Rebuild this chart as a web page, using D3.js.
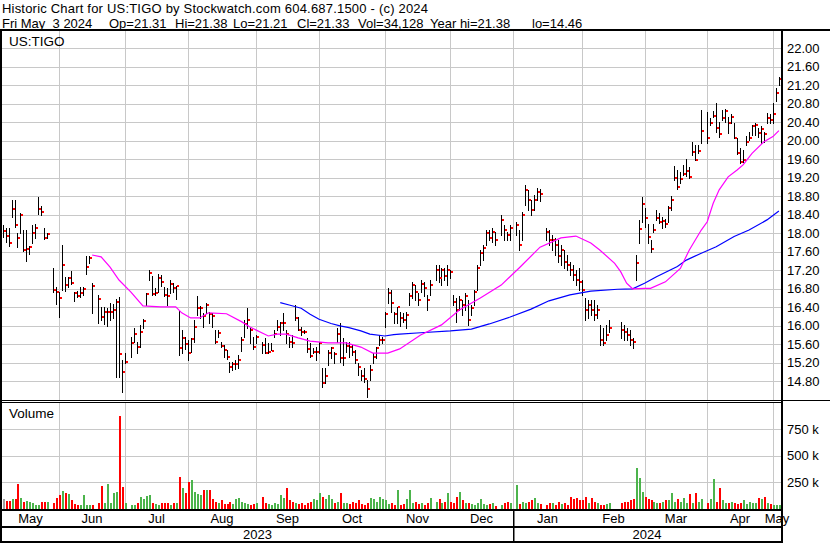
<!DOCTYPE html>
<html><head><meta charset="utf-8">
<script src="https://cdn.jsdelivr.net/npm/d3@7"></script>
<style>
html,body{margin:0;padding:0;background:#fff;}
svg{display:block;font-family:"Liberation Sans",Arial,sans-serif;}
</style></head><body>
<svg id="chart" width="830" height="543"></svg>
<script>
// ---------- DATA ----------
const startDate = "2023-05-05", endDate = "2024-05-03";
const holidays = ["2023-05-29","2023-06-19","2023-07-04","2023-09-04","2023-11-23","2023-12-25","2024-01-01","2024-01-15","2024-02-19","2024-03-29"];

const high = [
18.18,18.11,18.11,18.72,18.72,18.00,18.43,18.07,18.07,17.73,18.18,18.20,18.79,18.59,18.11,18.00,17.24,16.83,
16.74,17.75,17.06,17.05,17.19,16.74,16.76,16.83,16.83,17.51,17.51,16.92,16.67,16.40,16.40,16.38,16.49,16.47,16.57,16.62,15.25,
15.41,15.76,15.95,15.66,16.02,16.14,16.70,17.21,17.08,16.81,17.12,17.10,16.83,16.81,16.98,16.92,16.86,16.32,15.91,15.76,
15.69,15.73,16.13,16.64,16.43,16.27,16.49,16.30,16.27,15.91,15.91,15.66,15.58,15.48,15.22,15.22,15.26,15.37,15.76,16.13,16.38,15.95,15.75,
15.80,15.66,15.73,15.62,15.62,15.91,16.13,16.09,16.27,15.91,15.76,15.80,16.45,16.20,15.98,15.91,15.73,15.62,15.51,15.55,
15.66,15.08,15.08,15.48,15.55,15.44,15.95,16.05,15.73,15.66,15.66,15.58,15.48,15.19,15.04,15.08,14.83,15.15,15.41,15.55,15.80,15.76,
16.30,16.81,16.77,16.30,16.41,16.30,16.28,16.30,16.70,16.95,16.88,16.71,16.99,16.94,16.67,16.98,17.31,17.31,17.25,17.25,17.31,
17.21,16.66,16.60,16.64,16.56,16.71,16.56,16.45,16.78,17.31,17.64,17.75,18.07,18.07,18.11,18.03,18.40,18.18,18.03,18.18,
18.24,18.07,18.46,19.05,18.94,18.72,18.83,18.98,18.95,18.11,18.07,17.96,17.90,17.86,17.75,17.64,17.53,17.38,17.31,17.21,17.25,
16.99,16.60,16.56,16.56,16.56,16.45,16.02,15.95,16.02,16.13,null,null,16.08,16.02,15.95,15.91,15.74,17.53,18.29,18.79,
18.54,18.20,17.86,18.20,18.50,18.43,18.36,18.32,18.58,18.81,19.46,19.37,19.33,19.48,19.60,19.44,19.98,19.91,19.91,20.67,
20.63,20.49,20.65,20.81,20.41,20.67,20.69,20.52,20.59,20.38,20.05,19.84,19.80,20.10,20.20,20.34,20.38,20.27,20.32,20.20,20.61,20.59,
20.81,21.14,21.38];
const low = [
17.93,17.82,17.73,18.35,18.14,17.71,18.00,17.62,17.41,17.55,17.80,17.89,18.42,18.40,17.87,17.89,16.74,16.47,
16.18,16.77,16.76,16.83,16.90,16.54,16.62,16.62,16.67,17.12,17.35,16.27,16.05,16.13,16.04,16.00,16.13,16.16,14.90,14.90,14.56,
15.19,15.33,15.66,15.41,15.55,15.95,16.45,16.99,16.67,16.67,16.74,16.87,16.64,16.45,16.70,16.74,16.59,15.37,15.41,15.50,
15.26,15.44,15.66,16.23,16.16,15.98,16.27,16.05,15.98,15.62,15.76,15.55,15.33,15.28,15.01,15.04,15.06,15.08,15.46,15.76,15.95,15.62,15.50,
15.62,15.41,15.41,15.41,15.48,15.76,15.91,15.80,15.91,15.62,15.55,15.55,16.13,15.91,15.80,15.84,15.44,15.33,15.41,15.26,
15.41,14.68,14.76,15.15,15.30,15.19,15.66,15.22,15.15,15.44,15.33,15.37,15.19,14.94,14.83,14.79,14.46,14.83,15.19,15.30,15.58,15.62,
15.98,16.49,16.30,16.05,16.05,16.00,16.08,15.96,16.45,16.60,16.56,16.45,16.73,16.64,16.34,16.66,16.98,16.95,16.88,16.99,16.88,
17.04,16.45,16.08,16.34,16.23,16.34,16.02,16.23,16.45,16.78,17.31,17.42,17.75,17.86,17.81,17.75,17.96,17.86,17.86,17.86,
17.96,17.64,17.86,18.61,18.51,18.40,18.51,18.72,18.70,17.86,17.75,17.64,17.53,17.38,17.31,17.25,17.20,17.10,17.00,16.88,16.77,
16.67,16.13,16.17,16.23,16.13,16.17,15.58,15.58,15.69,15.87,null,null,15.74,15.69,15.69,15.58,15.52,16.99,17.78,18.25,
18.14,17.78,17.60,18.03,18.29,18.22,18.11,18.14,18.25,18.50,19.15,18.95,19.08,19.26,19.24,19.19,19.69,19.58,19.73,19.96,
19.95,20.34,20.51,20.20,20.09,20.45,20.41,20.16,20.38,20.05,19.71,19.51,19.55,19.91,20.02,20.13,20.13,20.09,19.95,19.98,20.38,20.38,
20.38,20.85,21.21];
const close = [
18.06,17.94,17.80,18.53,18.19,17.90,18.40,17.64,17.66,17.71,18.01,18.12,18.53,18.45,17.90,17.98,16.77,16.73,
16.61,17.31,16.88,17.03,16.93,16.72,16.64,16.72,16.80,17.28,17.47,16.85,16.59,16.18,16.29,16.29,16.29,16.34,16.52,15.38,15.01,
15.22,15.63,15.82,15.55,15.87,16.11,16.69,17.15,16.68,16.72,17.04,16.94,16.67,16.65,16.90,16.82,16.85,15.51,15.74,15.61,
15.42,15.71,15.98,16.38,16.38,16.21,16.46,16.26,16.21,15.65,15.85,15.56,15.48,15.33,15.12,15.17,15.17,15.26,15.69,16.04,16.13,15.91,15.55,
15.76,15.58,15.42,15.44,15.46,15.82,15.97,16.05,16.07,15.82,15.65,15.62,16.16,15.91,15.87,15.86,15.50,15.35,15.43,15.44,
15.63,14.77,14.92,15.42,15.53,15.39,15.82,15.30,15.30,15.57,15.55,15.44,15.26,15.12,14.91,14.84,14.64,15.04,15.33,15.51,15.69,15.69,
16.25,16.72,16.49,16.25,16.40,16.17,16.13,16.23,16.64,16.88,16.73,16.56,16.90,16.82,16.56,16.88,17.21,17.03,17.21,17.08,17.21,
17.16,16.51,16.34,16.56,16.45,16.64,16.13,16.38,16.73,17.25,17.57,17.68,18.01,17.90,18.03,17.86,18.29,18.07,17.96,18.11,
18.18,17.75,18.40,18.94,18.72,18.51,18.72,18.89,18.85,18.03,17.86,17.86,17.75,17.51,17.64,17.38,17.31,17.21,17.10,16.99,16.95,
16.78,16.34,16.45,16.34,16.23,16.34,15.69,15.63,15.80,15.95,null,null,15.91,15.87,15.80,15.69,15.65,17.36,18.10,18.63,
18.34,17.91,17.67,18.08,18.34,18.24,18.27,18.20,18.54,18.72,19.19,19.01,19.17,19.28,19.35,19.22,19.76,19.58,19.79,20.21,
20.07,20.38,20.54,20.28,20.14,20.49,20.65,20.39,20.52,20.07,19.73,19.54,19.58,19.98,20.07,20.31,20.34,20.16,20.26,20.14,20.49,20.45,
20.58,21.04,21.33];
// volume in thousands of shares
const volumeK = [
94,78,78,97,97,234,103,65,78,65,53,40,40,62,62,62,53,103,
134,172,150,137,87,50,40,40,134,40,40,40,53,215,53,235,60,150,160,873,210,
60,40,40,60,110,90,120,130,60,50,40,60,60,60,40,60,60,300,200,150,
250,270,160,140,130,180,180,180,90,70,60,80,50,50,70,50,90,100,70,60,50,40,50,
60,110,60,50,40,60,50,130,100,200,80,70,60,50,60,40,60,70,90,80,
150,110,90,130,90,60,70,150,60,60,50,70,60,80,50,40,60,100,90,70,110,90,
80,50,60,40,180,40,50,90,180,60,70,50,60,40,60,100,70,90,60,70,150,
70,60,110,160,80,60,60,50,40,60,90,50,40,50,60,30,40,60,70,60,
225,50,70,60,70,80,100,60,50,40,60,60,40,70,50,60,40,110,90,100,80,
80,110,60,100,70,60,40,40,50,60,null,null,60,70,70,80,90,380,290,160,
110,90,80,70,60,60,70,80,80,150,70,90,70,100,60,140,60,150,70,90,
60,90,280,70,200,80,60,60,70,60,50,60,80,50,70,60,60,100,90,110,60,50,
40,40,34];

// moving averages (weekday number on the axis, price)
const maShortDay = [30,33,36,39,43,47,53,58,60,63,66,69,75,80,83,89,92,95,99,103,109,115,120,124,129,133,140,147,153,160,167,173,180,187,192,197,200,205,207,209,211,215,217,222,227,230,234,236,238,240,243,246,248,251,255,258,260];
const maShortVal = [17.53,17.49,17.27,16.99,16.73,16.43,16.41,16.41,16.28,16.17,16.17,16.28,16.26,16.09,15.97,15.78,15.82,15.82,15.74,15.67,15.63,15.63,15.54,15.41,15.41,15.50,15.80,16.02,16.34,16.60,16.88,17.25,17.70,17.90,17.94,17.79,17.64,17.35,17.17,16.92,16.80,16.81,16.81,16.95,17.24,17.64,18.07,18.25,18.65,18.94,19.22,19.37,19.48,19.73,19.98,20.09,20.22];
const maLongDay = [93,96,100,103,106,110,113,116,120,123,128,131,133,140,150,157,163,170,177,183,190,197,206,211,215,219,226,229,234,239,245,250,256,260];
const maLongVal = [16.50,16.45,16.38,16.25,16.14,16.05,16.00,15.96,15.89,15.82,15.78,15.81,15.82,15.85,15.89,15.93,16.04,16.19,16.36,16.54,16.67,16.75,16.79,16.80,16.92,17.06,17.28,17.42,17.57,17.71,17.93,18.07,18.29,18.48];

const priceTicks = [22.00,21.60,21.20,20.80,20.40,20.00,19.60,19.20,18.80,18.40,18.00,17.60,17.20,16.80,16.40,16.00,15.60,15.20,14.80];
const volumeTicks = [250000,500000,750000];
const volumeTickLabels = ["250 k","500 k","750 k"];
const monthNames = ["Jan","Feb","Mar","Apr","May","Jun","Jul","Aug","Sep","Oct","Nov","Dec"];
const titleLine = "Historic Chart for US:TIGO by Stockwatch.com 604.687.1500 - (c) 2024";
const quoteFields = ["Fri May  3 2024","Op=21.31","Hi=21.38","Lo=21.21","Cl=21.33","Vol=34,128","Year hi=21.38","lo=14.46"];
const symbolLabel = "US:TIGO";
const volumeLabel = "Volume";

// ---------- LAYOUT ----------
const W = 830, H = 543;
const plotL = 2, plotR = 781;
const priceTop = 31, priceBot = 400;
const volTop = 403, volBot = 509;
const GRID = "#c8c8c8";
const GREEN = "#4cb44c", RED = "#ff0000";
const FONT = "Liberation Sans, Arial, sans-serif";

const svg = d3.select("#chart");

function ymd(d){return d.toISOString().slice(0,10);}
const slots = [];
for (let d = new Date(startDate+"T00:00:00Z"); d <= new Date(endDate+"T00:00:00Z"); d.setUTCDate(d.getUTCDate()+1)) {
  const wd = d.getUTCDay(); if (wd===0||wd===6) continue; slots.push(ymd(d));
}
const slotOf = new Map(slots.map((s,i)=>[s,i]));
const tradingDays = slots.filter(s=>!holidays.includes(s));
const bars = tradingDays.map((d,i)=>({date:d, slot:slotOf.get(d), h:high[i], l:low[i], c:close[i], v:volumeK[i]==null?null:volumeK[i]*1000}));

const x = d3.scaleLinear().domain([0, slots.length-1]).range([2.56, 778.9]);
const y = d3.scaleLinear().domain([14.8, 22]).range([381.3, 48.3]);
const yv = d3.scaleLinear().domain([0, 1e6]).range([volBot, 402.2]);

const months = [];
slots.forEach((s,i)=>{
  const key = s.slice(0,7);
  if (!months.length || months[months.length-1].key !== key) months.push({key, slot:i, m:+s.slice(5,7)-1, yr:s.slice(0,4)});
});
months.forEach((m,i)=>{
  m.x0 = i===0 ? plotL : Math.round(x(m.slot));
  m.x1 = i===months.length-1 ? plotR : Math.round(x(months[i+1].slot));
});

// ---------- GRID ----------
const g = svg.append("g");
g.selectAll(".pg").data(priceTicks).join("line")
  .attr("x1",plotL).attr("x2",plotR)
  .attr("y1",d=>Math.round(y(d))+0.5).attr("y2",d=>Math.round(y(d))+0.5)
  .attr("stroke",GRID).attr("stroke-width",1);
g.selectAll(".vg").data(volumeTicks).join("line")
  .attr("x1",plotL).attr("x2",plotR)
  .attr("y1",d=>Math.round(yv(d))+0.5).attr("y2",d=>Math.round(yv(d))+0.5)
  .attr("stroke",GRID).attr("stroke-width",1);
months.slice(1).forEach(m=>{
  [[priceTop,priceBot],[volTop,volBot]].forEach(([a,b])=>{
    g.append("line").attr("x1",m.x0+0.5).attr("x2",m.x0+0.5).attr("y1",a).attr("y2",b)
      .attr("stroke",GRID).attr("stroke-width",1);
  });
});

// ---------- PRICE BARS ----------
svg.append("clipPath").attr("id","pclip").append("rect")
  .attr("x",plotL).attr("y",priceTop).attr("width",plotR-plotL).attr("height",priceBot-priceTop);
const pg = svg.append("g").attr("clip-path","url(#pclip)");
const valid = bars.filter(b=>b.h!=null);
pg.selectAll(".hl").data(valid).join("rect")
  .attr("x",d=>Math.round(x(d.slot))).attr("width",1)
  .attr("y",d=>Math.round(y(d.h))).attr("height",d=>Math.max(1,Math.round(y(d.l))-Math.round(y(d.h))+1))
  .attr("fill","#000");
pg.selectAll(".cl").data(valid).join("rect")
  .attr("x",d=>Math.round(x(d.slot))+1).attr("width",2)
  .attr("y",d=>Math.round(y(d.c))-1).attr("height",2)
  .attr("fill",RED);

const lineGen = d3.line().x(d=>x(d[0])).y(d=>y(d[1]));
pg.append("path").attr("d",lineGen(maLongDay.map((d,i)=>[d,maLongVal[i]])))
  .attr("fill","none").attr("stroke","#0000ff").attr("stroke-width",1.2);
pg.append("path").attr("d",lineGen(maShortDay.map((d,i)=>[d,maShortVal[i]])))
  .attr("fill","none").attr("stroke","#ff00ff").attr("stroke-width",1.2);

// ---------- VOLUME ----------
let prev = null;
const vbars = [];
bars.forEach(b=>{
  if (b.v==null) return;
  let col = "#a0a0a0";
  if (prev!=null) col = b.c >= prev ? GREEN : RED;
  if (b.c!=null) prev = b.c;
  vbars.push({...b, col});
});
svg.append("g").selectAll("rect").data(vbars).join("rect")
  .attr("x",d=>Math.round(x(d.slot))).attr("width",2)
  .attr("y",d=>Math.round(yv(d.v))).attr("height",d=>volBot-Math.round(yv(d.v)))
  .attr("fill",d=>d.col);

// ---------- FRAMES ----------
const blk = (xx,yy,w,h)=>svg.append("rect").attr("x",xx).attr("y",yy).attr("width",w).attr("height",h).attr("fill","#000");
blk(0,29,W,2);
blk(0,29,2,H-29);
blk(781,29,2,H-29);
blk(0,400,781,1); blk(0,402,781,1); blk(783,400,W-783,1);
blk(0,509,783,2);
blk(0,526,783,2);
blk(0,541,783,2);

const yearStarts = months.filter((m,i)=>i===0 || m.yr!==months[i-1].yr);
yearStarts.slice(1).forEach(m=>blk(m.x0,509,1.5,34));

// ---------- AXES ----------
const axP = d3.axisRight(y).tickValues(priceTicks).tickFormat(d3.format(".2f")).tickSize(0).tickPadding(4);
const gp = svg.append("g").attr("transform","translate(783,0)").call(axP);
gp.select(".domain").remove();
gp.selectAll("text").attr("font-size",13).attr("font-family",FONT).attr("fill","#000");

const axV = d3.axisRight(yv).tickValues(volumeTicks).tickFormat((d,i)=>volumeTickLabels[i]).tickSize(0).tickPadding(4);
const gv = svg.append("g").attr("transform","translate(783,0)").call(axV);
gv.select(".domain").remove();
gv.selectAll("text").attr("font-size",13).attr("font-family",FONT).attr("fill","#000");

svg.append("g").selectAll("text").data(months).join("text")
  .attr("x",d=>(d.x0+d.x1)/2).attr("y",523).attr("text-anchor","middle")
  .attr("font-size",13).attr("fill","#000").text(d=>monthNames[d.m]);
yearStarts.forEach((m,i)=>{
  const x0 = m.x0, x1 = i+1<yearStarts.length ? yearStarts[i+1].x0 : plotR;
  svg.append("text").attr("x",(x0+x1)/2).attr("y",539).attr("text-anchor","middle")
    .attr("font-size",13).attr("fill","#000").text(m.yr);
});

// ---------- TEXT ----------
svg.append("text").attr("x",2).attr("y",12.5).attr("font-size",13)
  .attr("textLength",426).attr("lengthAdjust","spacing").attr("fill","#000").text(titleLine);
const qx = [2,109,175,233,297,358,430,532];
quoteFields.forEach((t,i)=>svg.append("text").attr("x",qx[i]).attr("y",27.5).attr("font-size",13)
  .attr("fill","#000").text(t.replace(/ /g,"\u00a0")));
svg.append("text").attr("x",9).attr("y",46).attr("font-size",13.5).attr("fill","#000").text(symbolLabel);
svg.append("text").attr("x",9).attr("y",418).attr("font-size",13.5).attr("fill","#000").text(volumeLabel);
</script>
</body></html>
